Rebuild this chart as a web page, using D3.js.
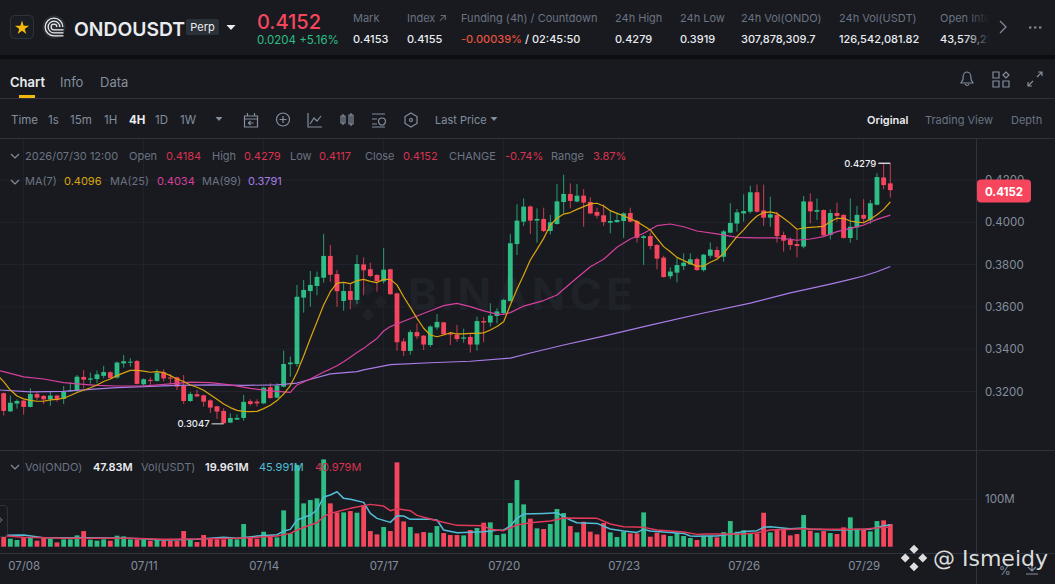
<!DOCTYPE html>
<html>
<head>
<meta charset="utf-8">
<script src="https://cdnjs.cloudflare.com/ajax/libs/d3/7.8.5/d3.min.js"></script>
<style>
html,body{margin:0;padding:0;background:#181a20;overflow:hidden}
text{font-family:Inter,"Noto Sans",sans-serif}
</style>
</head>
<body>
<div id="chart"></div>
<script>
// candles, 4h bars, oldest first
var opens = [.3192,.3106,.3143,.3157,.3127,.3188,.3179,.3163,.3181,.3165,
.3201,.3206,.3269,.3256,.3259,.3274,.3291,.3266,.3333,.3338,
.3344,.3234,.3255,.3250,.3292,.3266,.3267,.3226,.3155,.3187,
.3182,.3158,.3130,.3108,.3053,.3067,.3075,.3154,.3152,.3144,
.3220,.3171,.3223,.3329,.3330,.3644,.3675,.3699,.3738,.3841,
.3755,.3628,.3675,.3633,.3801,.3778,.3751,.3721,.3778,.3664,
.3437,.3392,.3481,.3464,.3420,.3503,.3527,.3475,.3469,.3450,
.3458,.3422,.3533,.3526,.3557,.3571,.3628,.3897,.4003,.4075,
.4008,.4016,.3959,.3992,.4096,.4134,.4098,.4126,.4096,.4049,
.4033,.3998,.4001,.4006,.4044,.4006,.3926,.3935,.3893,.3833,
.3745,.3762,.3793,.3801,.3826,.3774,.3842,.3869,.3837,.3951,
.3994,.4042,.4050,.4142,.4056,.4022,.4035,.3940,.3916,.3897,
.3885,.4098,.4050,.4058,.3940,.4044,.4035,.3926,.3976,.4035,
.4011,.4083,.4212,.4184];
var closes = [.3108,.3147,.3155,.3127,.3188,.3171,.3163,.3181,.3163,.3198,
.3206,.3270,.3256,.3262,.3281,.3292,.3264,.3337,.3343,.3341,
.3236,.3258,.3250,.3289,.3262,.3261,.3223,.3155,.3188,.3177,
.3152,.3124,.3105,.3050,.3075,.3075,.3151,.3141,.3144,.3218,
.3169,.3228,.3330,.3337,.3648,.3680,.3704,.3742,.3841,.3752,
.3674,.3675,.3633,.3803,.3773,.3746,.3722,.3776,.3660,.3433,
.3392,.3481,.3461,.3422,.3507,.3529,.3470,.3469,.3448,.3456,
.3422,.3533,.3526,.3559,.3579,.3633,.3901,.4008,.4074,.4008,
.4016,.3959,.4000,.4099,.4134,.4101,.4126,.4093,.4042,.4031,
.4001,.4006,.4011,.4042,.4003,.3927,.3934,.3888,.3828,.3741,
.3767,.3798,.3809,.3825,.3774,.3847,.3871,.3834,.3957,.3997,
.4047,.4053,.4142,.4050,.4022,.4038,.3935,.3913,.3893,.3888,
.4099,.4052,.4058,.3938,.4044,.4030,.3926,.3979,.4035,.4017,
.4090,.4214,.4176,.4152];
var highs = [.3195,.3181,.3163,.3160,.3215,.3198,.3184,.3199,.3184,.3226,
.3245,.3278,.3302,.3289,.3299,.3321,.3296,.3341,.3373,.3357,
.3349,.3262,.3267,.3305,.3305,.3283,.3270,.3278,.3198,.3207,
.3185,.3163,.3132,.3121,.3097,.3092,.3184,.3163,.3163,.3223,
.3239,.3239,.3393,.3365,.3704,.3727,.3770,.3767,.3945,.3893,
.3775,.3712,.3712,.3846,.3834,.3809,.3754,.3879,.3781,.3667,
.3452,.3491,.3522,.3467,.3513,.3566,.3529,.3481,.3515,.3497,
.3472,.3554,.3552,.3617,.3593,.3639,.3945,.4085,.4113,.4079,
.4066,.4069,.4035,.4181,.4225,.4184,.4181,.4157,.4118,.4069,
.4085,.4058,.4047,.4047,.4069,.4011,.3940,.3951,.3897,.3842,
.3787,.3834,.3853,.3853,.3833,.3850,.3905,.3885,.3964,.4090,
.4063,.4132,.4173,.4179,.4178,.4121,.4050,.3956,.3929,.3964,
.4124,.4137,.4113,.4061,.4061,.4093,.4038,.4113,.4077,.4109,
.4105,.4232,.4275,.4279];
var lows = [.3086,.3103,.3119,.3091,.3125,.3160,.3141,.3132,.3152,.3141,
.3198,.3196,.3214,.3237,.3239,.3262,.3259,.3261,.3313,.3318,
.3234,.3223,.3225,.3247,.3248,.3236,.3207,.3141,.3151,.3173,
.3129,.3099,.3070,.3047,.3050,.3066,.3062,.3132,.3129,.3141,
.3166,.3168,.3220,.3270,.3318,.3573,.3601,.3655,.3715,.3718,
.3601,.3582,.3589,.3614,.3655,.3740,.3672,.3711,.3658,.3393,
.3368,.3374,.3448,.3396,.3410,.3491,.3467,.3420,.3436,.3431,
.3384,.3393,.3433,.3507,.3522,.3565,.3625,.3845,.3983,.3945,
.3904,.3954,.3943,.3989,.4042,.4066,.4094,.3979,.4038,.4019,
.3983,.3948,.3998,.3927,.4000,.3904,.3798,.3872,.3778,.3738,
.3732,.3716,.3774,.3798,.3771,.3767,.3830,.3830,.3814,.3948,
.3956,.4003,.4042,.4047,.3983,.3979,.3904,.3861,.3869,.3834,
.3877,.3995,.4011,.3935,.3919,.4003,.3923,.3904,.3916,.3995,
.3992,.4080,.4156,.4117];
// volume in millions of ONDO
var volumes = [21.1,16.9,14.1,19.7,19.7,12.7,18.3,16.9,9.1,15.5,
15.5,23.9,33.0,14.8,12.7,15.5,12.7,23.2,21.8,15.5,
15.5,15.5,12.7,15.5,12.7,12.7,12.7,33.0,14.1,9.8,
24.6,16.9,15.5,15.5,16.9,15.5,47.8,19.7,16.9,31.6,
23.9,19.7,76.6,28.1,172.3,91.4,98.4,102,184.2,91.4,
72.4,72.4,75.2,71.7,87.9,33,26,41.5,33,177.9,
53.4,41.5,28.1,30.9,29.5,43.6,28.8,24.6,24.6,23.9,
35.2,39.4,50.6,51.3,24.6,27.4,92.1,140.6,89.3,59.1,
38.7,37.3,47.8,79.5,71,43.6,30.2,52.7,31.6,26,
49.9,30.2,20.4,31.6,28.1,28.1,72.4,21.1,29.5,25.3,
22.5,29.5,22.5,18.3,14.1,22.5,22.5,19.7,30.9,54.1,
31.6,34.5,28.1,28.1,71.7,30.2,35.2,38,23.9,26.7,
66.8,33.8,29.5,33,28.8,26.7,40.8,61.9,38,36.6,
32.3,54.1,55.6,47.83];

// moving averages, bar index + value
var ma7Idx = [-1,0,1,2,3,4,5,6,7,8,9,10,11,12,13,14,15,16,17,18,19,20,21,22,23,24,25,26,27,28,29,30,31,32,33,34,35,36,37,38,39,40,41,42,43,44,45,46,47,48,49,50,51,52,53,54,55,56,57,58,59,60,61,62,63,64,65,66,67,68,69,70,71,72,73,74,75,76,77,78,79,80,81,82,83,84,85,86,87,88,89,90,91,92,93,94,95,96,97,98,99,100,101,102,103,104,105,106,107,108,109,110,111,112,113,114,115,116,117,118,119,120,121,122,123,124,125,126,127,128,129,130,131,132,133];
var ma7 = [.3278,.3247,.3207,.3179,.3165,.3158,.3154,.3154,.3160,.3163,.3168,.3181,.3195,.3206,.3218,.3231,.3247,.3259,.3275,.3288,.3300,.3300,.3296,.3291,.3294,.3289,.3275,.3259,.3247,.3231,.3220,.3206,.3185,.3163,.3141,.3124,.3111,.3106,.3105,.3106,.3119,.3135,.3157,.3188,.3228,.3290,.3368,.3451,.3530,.3609,.3672,.3712,.3716,.3710,.3724,.3730,.3721,.3715,.3730,.3730,.3704,.3648,.3598,.3546,.3499,.3467,.3459,.3467,.3478,.3472,.3472,.3475,.3475,.3477,.3491,.3507,.3530,.3609,.3683,.3751,.3822,.3872,.3924,.3987,.4019,.4039,.4046,.4061,.4074,.4087,.4090,.4077,.4055,.4042,.4031,.4017,.4003,.3984,.3964,.3924,.3885,.3861,.3834,.3819,.3806,.3793,.3793,.3811,.3825,.3853,.3893,.3932,.3964,.4000,.4030,.4046,.4049,.4042,.4019,.3995,.3967,.3973,.3976,.3978,.3981,.4003,.4019,.4019,.4006,.4001,.3998,.4015,.4036,.4061,.4096];
var ma25Idx = [-1,0,3,6,9,11,14,17,21,25,28,31,34,37,40,43,44,46,48,49,50,51,52,53,54,55,56,57,58,60,62,64,66,68,70,72,74,75,76,78,81,83,85,88,90,92,94,96,98,100,102,104,107,110,113,116,118,119,121,123,125,127,129,131,133];
var ma25 = [.3300,.3294,.3269,.3259,.3242,.3236,.3229,.3226,.3226,.3236,.3244,.3242,.3231,.3215,.3203,.3196,.3231,.3259,.3292,.3306,.3322,.3341,.3362,.3384,.3404,.3428,.3451,.3486,.3507,.3532,.3557,.3582,.3606,.3617,.3601,.3581,.3566,.3565,.3573,.3604,.3630,.3656,.3711,.3790,.3825,.3882,.3921,.3948,.3984,.3992,.3979,.3959,.3945,.3929,.3926,.3927,.3919,.3915,.3921,.3932,.3956,.3971,.3987,.4014,.4034];
var ma99Idx = [-1,0,4,9,13,17,21,26,31,36,41,44,49,53,54,58,64,70,76,79,84,90,97,105,112,118,124,127,129,131,133];
var ma99 = [.3208,.3206,.3198,.3201,.3210,.3218,.3223,.3229,.3231,.3229,.3231,.3240,.3283,.3294,.3302,.3327,.3336,.3343,.3358,.3382,.3420,.3462,.3514,.3571,.3618,.3666,.3708,.3730,.3746,.3766,.3791];
var volMaCyanIdx = [-1,0,3,6,9,13,19,24,29,33,35,38,41,42,43,44,46,47,48,49,50,51,52,54,55,56,58,59,60,61,64,65,66,68,72,74,75,76,77,78,81,83,84,85,86,89,91,93,95,96,97,99,102,103,104,105,107,109,111,113,114,115,118,120,121,125,130,132,133];
var volMaCyan = [21,23.9,24.6,19,19,19,17.6,14.1,15.5,19.7,17.6,22.5,25.3,33,36.6,56.3,66.8,77.4,105,109,116,102,99.9,93.5,70.3,59.8,51.3,65.4,64.7,57.7,57.7,56.3,35.2,29.5,31.6,34.5,35.2,43.6,59.8,68.9,70.3,71.7,63.3,56.3,50.6,49.2,37.3,33,30.2,36.6,33,30.9,28.1,22.5,21.8,22.5,22.5,26,32.3,33.8,40.8,42.2,38,39.4,36.6,35.2,36.6,44.3,45.991];
var volMaRedIdx = [-1,0,3,9,14,19,24,29,35,38,41,43,44,46,47,48,49,52,55,57,58,59,61,62,64,65,68,72,73,75,77,79,82,84,89,91,93,96,98,102,104,105,108,111,113,115,120,123,129,132,133];
var volMaRed = [22,23.2,19.7,17.6,17.6,17.6,15.5,16.2,17.6,19.7,22.5,28.1,35.2,45.7,50.6,63.3,70.3,80.9,89.3,85.8,75.9,80.2,75.9,66.1,58.4,54.8,45,44.3,36.6,33.8,45.7,50.6,54.1,60.5,59.8,47.8,42.2,40.8,35.2,30.9,26,26.7,26.7,26.7,29.5,35.2,38,36.6,36.6,40.8,40.979];

var priceTicks = [0.32,0.34,0.36,0.38,0.40,0.42];
var volTicks = [100];
var dateIdx = [3,21,39,57,75,93,111,129];
var dateLabels = ["07/08","07/11","07/14","07/17","07/20","07/23","07/26","07/29"];
var intervals = ["Time","1s","15m","1H","4H","1D","1W"];
var intervalX = [11,48,70,104,129,155,180];
var statNames = ["Mark","Index ↗","Funding (4h) / Countdown","24h High","24h Low","24h Vol(ONDO)","24h Vol(USDT)","Open Interest"];
var statValues = ["0.4153","0.4155","","0.4279","0.3919","307,878,309.7","126,542,081.82","43,579,210"];
var statX = [353,407,461,615,680,741,839,940];

var green = "#2ebd85", red = "#f6465d", dimRed = "#d9324e", gridCol = "#21242b", lineCol = "#2d333d";
var dim = "#6b7380", mid = "#848e9c", bright = "#eaecef";

var svg = d3.select("#chart").append("svg")
	.attr("width", 1055)
	.attr("height", 584)
	.style("display", "block");

var x = d3.scaleLinear().domain([0, 133]).range([3.67, 890.3]);
var y = d3.scaleLinear().domain([0.32, 0.42]).range([391.5, 180]);
var yVol = d3.scaleLinear().domain([0, 100]).range([546.7, 499.3]);

function label(sel, px, py, str, col, size, weight, anchor){
	return sel.append("text")
		.attr("x", px)
		.attr("y", py)
		.attr("fill", col)
		.attr("font-size", size)
		.attr("font-weight", weight || 400)
		.attr("text-anchor", anchor || "start")
		.text(str);
}
function icon(px, py, d, col){
	return svg.append("path")
		.attr("transform", "translate(" + px + "," + py + ")")
		.attr("d", d)
		.attr("fill", "none")
		.attr("stroke", col || mid)
		.attr("stroke-width", 1.2);
}
function tri(px, py, w, h, col){
	svg.append("path")
		.attr("d", "M" + (px - w) + "," + py + "L" + (px + w) + "," + py + "L" + px + "," + (py + h) + "Z")
		.attr("fill", col);
}
// binance mark, five small diamonds
function mark(px, py, s, col){
	var g = svg.append("g").attr("transform", "translate(" + px + "," + py + ")").attr("fill", col);
	[[0,-1],[-1,0],[1,0],[0,1]].forEach(function(o){
		g.append("rect")
			.attr("x", -s * 0.42).attr("y", -s * 0.42)
			.attr("width", s * 0.84).attr("height", s * 0.84)
			.attr("transform", "translate(" + o[0] * s * 1.15 + "," + o[1] * s * 1.15 + ") rotate(45)");
	});
	g.append("rect")
		.attr("x", -s * 0.26).attr("y", -s * 0.26)
		.attr("width", s * 0.52).attr("height", s * 0.52)
		.attr("transform", "rotate(45)")
		.attr("fill", "#181a20");
	return g;
}

svg.append("rect").attr("width", 1055).attr("height", 584).attr("fill", "#181a20");
svg.append("rect").attr("y", 55).attr("width", 1055).attr("height", 4).attr("fill", "#0b0e11");
[98, 138, 450, 553].forEach(function(py){
	svg.append("line").attr("x1", 0).attr("x2", 1055).attr("y1", py + 0.5).attr("y2", py + 0.5).attr("stroke", lineCol);
});

// top bar
svg.append("rect").attr("x", 10.5).attr("y", 15.5).attr("width", 23).attr("height", 23).attr("rx", 4)
	.attr("fill", "#1b1d24").attr("stroke", lineCol);
svg.append("path")
	.attr("transform", "translate(22,28)")
	.attr("d", d3.symbol(d3.symbolStar, 62)())
	.attr("fill", "#f0b90b");
svg.append("circle").attr("cx", 54).attr("cy", 27).attr("r", 11.5).attr("fill", "#2a2d34");
[9.5, 6.5, 3.5].forEach(function(r){
	svg.append("path")
		.attr("transform", "translate(54,27)")
		.attr("d", d3.arc().innerRadius(r - 1.3).outerRadius(r).startAngle(-3.14).endAngle(1.57)())
		.attr("fill", "#e4e6ea");
	svg.append("rect").attr("x", 54).attr("y", 27 + r - 1.3).attr("width", 9.5).attr("height", 1.3).attr("fill", "#e4e6ea");
});
label(svg, 74, 36, "ONDOUSDT", bright, 19.3, 600);
svg.append("rect").attr("x", 186).attr("y", 19).attr("width", 33).attr("height", 16).attr("rx", 2).attr("fill", "#2b3139");
label(svg, 202.5, 31, "Perp", bright, 11, 400, "middle");
tri(231, 25, 4.5, 5, bright);
label(svg, 257, 29, "0.4152", red, 20, 500);
label(svg, 257, 44, "0.0204 +5.16%", green, 11.5);

statNames.forEach(function(n, i){
	label(svg, statX[i], 22, n, dim, 11);
	label(svg, statX[i], 43, statValues[i], bright, 11, 500);
});
var fundParts = svg.append("text").attr("x", 461).attr("y", 43).attr("font-size", 11).attr("font-weight", 500);
fundParts.append("tspan").attr("fill", "#e5533d").text("-0.00039%");
fundParts.append("tspan").attr("fill", bright).text(" / 02:45:50");
var fade = svg.append("defs").append("linearGradient").attr("id", "fade");
fade.append("stop").attr("offset", "0").attr("stop-color", "#181a20").attr("stop-opacity", 0);
fade.append("stop").attr("offset", "1").attr("stop-color", "#181a20");
svg.append("rect").attr("x", 965).attr("y", 8).attr("width", 25).attr("height", 40).attr("fill", "url(#fade)");
svg.append("rect").attr("x", 990).attr("y", 8).attr("width", 65).attr("height", 40).attr("fill", "#181a20");
icon(1000, 21, "M0,0L6,6L0,12", mid);
[1029, 1034, 1039].forEach(function(px){
	svg.append("rect").attr("x", px).attr("y", 26.5).attr("width", 2.4).attr("height", 2).attr("fill", mid);
});

// tabs
label(svg, 10, 87, "Chart", bright, 13, 600);
label(svg, 60, 87, "Info", mid, 13);
label(svg, 100, 87, "Data", mid, 13);
svg.append("rect").attr("x", 19).attr("y", 95).attr("width", 16).attr("height", 3).attr("fill", "#f0b90b");
icon(961, 72, "M6,0C2,0 2,4 2,7C2,9 0,10 0,11H12C12,10 10,9 10,7C10,4 10,0 6,0M4,12C5,14 7,14 8,12");
icon(993, 72, "M0,0H6V6H0ZM10,3L13,0L16,3L13,6ZM0,9H6V15H0ZM10,9H16V15H10Z");
icon(1028, 72, "M0,14L5,9M0,10V14H4M14,0L9,5M10,0H14V4");

// interval toolbar
intervals.forEach(function(t, i){
	label(svg, intervalX[i], 124, t, t == "4H" ? bright : mid, 11.5, t == "4H" ? 700 : 400);
});
tri(219, 117, 3.5, 4, mid);
icon(244.5, 113, "M0,3H13V14H0ZM0,6H13M3,0V3M10,0V3M9,10H4M6,8L4,10L6,12");
icon(276.5, 113, "M6.5,0A6.5,6.5 0 1 0 6.5,13A6.5,6.5 0 1 0 6.5,0M6.5,3V10M3,6.5H10");
icon(308, 113, "M0,0V14H14M2,11L6,5L9,8L13,3");
icon(340, 113, "M1,3H5V10H1ZM3,1V12M9,2H13V11H9ZM11,0V13");
icon(372, 113, "M0,1H13M0,6H5M0,11H5M0,14H13M10,5A3.5,3.5 0 1 0 10,12A3.5,3.5 0 1 0 10,5");
icon(405, 113, "M6,0L12,3.5V10.5L6,14L0,10.5V3.5ZM6,5.5A1.5,1.5 0 1 0 6,8.5A1.5,1.5 0 1 0 6,5.5");
label(svg, 435, 124, "Last Price", mid, 11);
tri(494, 117, 3.5, 4, mid);
label(svg, 867, 124, "Original", bright, 11, 600);
label(svg, 925, 124, "Trading View", dim, 11);
label(svg, 1011, 124, "Depth", dim, 11);

// grid
var grid = svg.append("g");
grid.selectAll(".gv").data(dateIdx).enter().append("line")
	.attr("x1", function(d){return x(d);}).attr("x2", function(d){return x(d);})
	.attr("y1", 139).attr("y2", 553).attr("stroke", gridCol);
grid.selectAll(".gh").data(priceTicks).enter().append("line")
	.attr("x1", 0).attr("x2", 976).attr("y1", function(d){return y(d);}).attr("y2", function(d){return y(d);})
	.attr("stroke", gridCol);
grid.selectAll(".gw").data(volTicks).enter().append("line")
	.attr("x1", 0).attr("x2", 976).attr("y1", function(d){return yVol(d);}).attr("y2", function(d){return yVol(d);})
	.attr("stroke", gridCol);

// faint watermark behind candles
mark(368, 302, 11, "#1f2229");
label(svg, 408, 310, "BINANCE", "#1f2229", 44, 700).attr("letter-spacing", 4);

// axes
var priceAxis = d3.axisRight(y).tickValues(priceTicks).tickSize(0).tickPadding(8)
	.tickFormat(function(d){return d3.format(".4f")(d);});
var pa = svg.append("g").attr("transform", "translate(977,0)").call(priceAxis);
var volAxis = d3.axisRight(yVol).tickValues(volTicks).tickSize(0).tickPadding(8)
	.tickFormat(function(d){return d + "M";});
var va = svg.append("g").attr("transform", "translate(977,0)").call(volAxis);
var timeAxis = d3.axisBottom(x).tickValues(dateIdx).tickSize(0).tickPadding(9)
	.tickFormat(function(d, i){return dateLabels[i];});
var ta = svg.append("g").attr("transform", "translate(0,553)").call(timeAxis);
[pa, va, ta].forEach(function(a){
	a.select(".domain").remove();
	a.selectAll("text").attr("fill", mid).attr("font-size", 11.5).style("font-family", "Inter,sans-serif");
});
svg.append("line").attr("x1", 976.5).attr("x2", 976.5).attr("y1", 139).attr("y2", 584).attr("stroke", lineCol);

// candles
var idx = d3.range(opens.length);
function candleCol(i){return closes[i] >= opens[i] ? green : red;}
svg.append("g").selectAll("line").data(idx).enter().append("line")
	.attr("x1", function(i){return x(i);})
	.attr("x2", function(i){return x(i);})
	.attr("y1", function(i){return y(highs[i]);})
	.attr("y2", function(i){return y(lows[i]);})
	.attr("stroke", candleCol)
	.attr("stroke-opacity", 0.8);
svg.append("g").selectAll("rect").data(idx).enter().append("rect")
	.attr("x", function(i){return x(i) - 2.4;})
	.attr("width", 4.8)
	.attr("y", function(i){return y(Math.max(opens[i], closes[i]));})
	.attr("height", function(i){return Math.max(1, Math.abs(y(opens[i]) - y(closes[i])));})
	.attr("fill", candleCol);

// volume bars
svg.append("g").selectAll("rect").data(idx).enter().append("rect")
	.attr("x", function(i){return x(i) - 2.4;})
	.attr("width", 4.8)
	.attr("y", function(i){return yVol(volumes[i]);})
	.attr("height", function(i){return yVol(0) - yVol(volumes[i]);})
	.attr("fill", candleCol);

// moving average lines
function drawMa(indexes, values, scale, col, width){
	var line = d3.line()
		.x(function(d){return x(d);})
		.y(function(d, i){return scale(values[i]);});
	svg.append("path")
		.datum(indexes)
		.attr("d", line)
		.attr("fill", "none")
		.attr("stroke", col)
		.attr("stroke-width", width)
		.attr("stroke-linejoin", "round");
}
drawMa(ma99Idx, ma99, y, "#a97ce6", 1.2);
drawMa(ma25Idx, ma25, y, "#d6409f", 1.2);
drawMa(ma7Idx, ma7, y, "#dba510", 1.2);
drawMa(volMaCyanIdx, volMaCyan, yVol, "#52bdd6", 1.5);
drawMa(volMaRedIdx, volMaRed, yVol, "#e0395a", 1.5);

// high / low markers
var hiIdx = highs.indexOf(d3.max(highs)), loIdx = lows.indexOf(d3.min(lows));
svg.append("line").attr("x1", x(hiIdx) - 12).attr("x2", x(hiIdx)).attr("y1", y(highs[hiIdx])).attr("y2", y(highs[hiIdx]))
	.attr("stroke", "#cfd2d6").attr("stroke-width", 1.5);
label(svg, x(hiIdx) - 14, y(highs[hiIdx]) + 3.5, d3.format(".4f")(highs[hiIdx]), bright, 9.5, 500, "end");
svg.append("line").attr("x1", x(loIdx) - 12).attr("x2", x(loIdx)).attr("y1", y(lows[loIdx])).attr("y2", y(lows[loIdx]))
	.attr("stroke", "#e6e8ea").attr("stroke-width", 1);
label(svg, x(loIdx) - 14, y(lows[loIdx]) + 3.5, d3.format(".4f")(lows[loIdx]), bright, 9.5, 500, "end");

// last price tag
svg.append("rect").attr("x", 977).attr("y", 179.5).attr("width", 54).attr("height", 23).attr("rx", 4).attr("fill", "#f6465d");
label(svg, 1004, 195.5, d3.format(".4f")(closes[closes.length - 1]), "#fff", 11.5, 700, "middle");

// legends
icon(11, 154, "M0,0L4,4L8,0");
icon(11, 180, "M0,0L4,4L8,0");
icon(11, 465, "M0,0L4,4L8,0");
var legend = [[25,"2026/07/30 12:00",dim],[129,"Open",dim],[166,"0.4184",dimRed],[212,"High",dim],[244,"0.4279",dimRed],[290,"Low",dim],[319,"0.4117",dimRed],[365,"Close",dim],[403,"0.4152",dimRed],[449,"CHANGE",dim],[505,"-0.74%",dimRed],[551,"Range",dim],[593,"3.87%",dimRed]];
legend.forEach(function(d){label(svg, d[0], 160, d[1], d[2], 11);});
var legendMa = [[25,"MA(7)",dim],[64,"0.4096","#dba510"],[110,"MA(25)",dim],[157,"0.4034","#d6409f"],[202,"MA(99)",dim],[248,"0.3791","#a97ce6"]];
legendMa.forEach(function(d){label(svg, d[0], 185, d[1], d[2], 11);});
var legendVol = [[25,"Vol(ONDO)",dim,400],[93,"47.83M",bright,600],[141,"Vol(USDT)",dim,400],[205,"19.961M",bright,600],[259,"45.991M","#52bdd6",400],[315,"40.979M",dimRed,400]];
legendVol.forEach(function(d){label(svg, d[0], 471, d[1], d[2], 11, d[3]);});

// collapsed tool handle
svg.append("path").attr("d", "M0,505.5H4Q7.5,505.5 7.5,509V533Q7.5,536.5 4,536.5H0").attr("fill", "#181a20").attr("stroke", lineCol);
icon(-1, 517, "M0,0L3,3L0,6", "#5e6673");

// bottom right controls and image watermark
label(svg, 1005, 575, "%", mid, 12, 400, "middle");
icon(1026, 561, "M6,0V10M2,6L6,10L10,6M0,13H12");
mark(914, 558, 7.6, "#dedede");
label(svg, 933, 566, "@ Ismeidy", "#dcdcdc", 22).style("font-family", "'DejaVu Sans',sans-serif");
</script>
</body>
</html>
